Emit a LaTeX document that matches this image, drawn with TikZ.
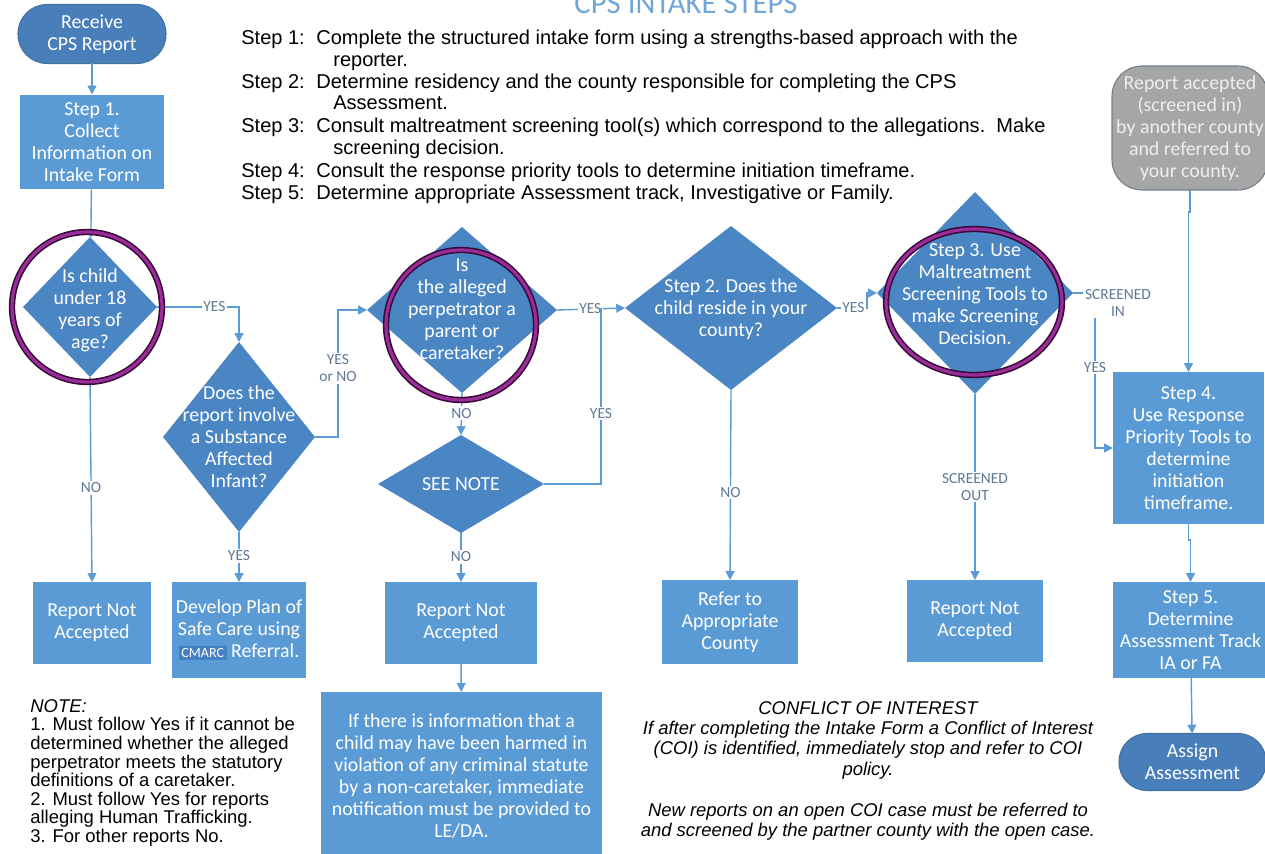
\documentclass[tikz,border=0pt]{standalone}
\usepackage{fontspec}
\setmainfont{Liberation Sans}
\newfontfamily\flowfont{Carlito}
\usetikzlibrary{arrows.meta,calc,positioning,shapes.geometric}

\definecolor{boxblue}{RGB}{91,155,213}
\definecolor{dblue}{RGB}{74,134,196}
\definecolor{pillblue}{RGB}{72,126,186}
\definecolor{pilledge}{RGB}{65,113,156}
\definecolor{linkblue}{RGB}{91,155,213}
\definecolor{lblgrey}{RGB}{95,120,150}
\definecolor{greybox}{RGB}{166,166,166}
\definecolor{greyedge}{RGB}{110,125,140}
\definecolor{ringdark}{RGB}{55,10,55}
\definecolor{ringpurple}{RGB}{155,45,155}
\definecolor{titleblue}{RGB}{112,166,216}
\definecolor{cmarcbg}{RGB}{70,128,196}

\tikzset{
  box/.style={rectangle, fill=boxblue, text=white, align=center,
    font=\flowfont\fontsize{11.3}{12.5}\selectfont, inner sep=0pt, outer sep=0pt},
  pill/.style={box, fill=pillblue, draw=pilledge, line width=0.6pt},
  decision/.style={diamond, fill=dblue, inner sep=0pt, outer sep=0pt},
  dtext/.style={text=white, align=center, inner sep=0pt,
    font=\flowfont\fontsize{11.3}{12.5}\selectfont},
  lbl/.style={fill=white, text=lblgrey, align=center, inner sep=1pt,
    font=\flowfont\fontsize{8.8}{9.6}\selectfont},
  flow/.style={draw=linkblue, line width=0.8pt, -{Triangle[length=5pt,width=5pt]}},
  link/.style={draw=linkblue, line width=0.8pt},
  ring/.style={draw=ringdark, line width=0.9pt, double=ringpurple, double distance=1.8pt},
  steps/.style={anchor=base west, inner sep=0pt, font=\fontsize{11.4}{12.5}\selectfont},
}

\begin{document}
\begin{tikzpicture}[x=0.02cm, y=-0.02cm]

  \useasboundingbox (0,0) rectangle (1265,854);

  %-------------------------
  % Title and step list
  %-------------------------
  \node[anchor=base, inner sep=0pt, text=titleblue, font=\flowfont\fontsize{17.5}{18}\selectfont]
    (title) at (686,14) {CPS INTAKE STEPS};

  \foreach \n/\y in {1/45, 2/89, 3/133, 4/178, 5/200}
    \node[steps] (lab\n) at (241,\y) {Step \n:};

  \node[steps] (st1) at (316,45) {Complete the structured intake form using a strengths-based approach with the};
  \node[steps] (st1b) at (333,67) {reporter.};
  \node[steps] (st2) at (316,89) {Determine residency and the county responsible for completing the CPS};
  \node[steps] (st2b) at (333,110) {Assessment.};
  \node[steps] (st3) at (316,133) {Consult maltreatment screening tool(s) which correspond to the allegations.\ \ Make};
  \node[steps] (st3b) at (333,155) {screening decision.};
  \node[steps] (st4) at (316,178) {Consult the response priority tools to determine initiation timeframe.};
  \node[steps] (st5) at (316,200) {Determine appropriate Assessment track, Investigative or Family.};

  %-------------------------
  % Left column
  %-------------------------
  \node[pill, rounded corners=0.58cm, minimum width=2.96cm, minimum height=1.18cm]
    (start) at (92,34) {Receive\\CPS Report};
  \node[box, minimum width=2.9cm, minimum height=1.9cm]
    (s1) at (92,142) {Step 1.\\Collect\\Information on\\Intake Form};

  \node[decision, minimum width=2.68cm, minimum height=2.8cm] (d1) at (90,307) {};
  \node[dtext] (d1t) at (90,310) {Is child\\under 18\\years of\\age?};

  \node[box, minimum width=2.38cm, minimum height=1.64cm]
    (r1) at (92,623) {Report Not\\Accepted};

  \node[decision, minimum width=3.04cm, minimum height=3.8cm] (d2) at (239,437) {};
  \node[dtext] (d2t) at (239,437) {Does the\\report involve\\a Substance\\Affected\\Infant?};

  \node[box, minimum width=2.68cm, minimum height=1.92cm] (plan) at (239,630)
    {Develop Plan of\\Safe Care using\\{\setlength\fboxsep{1.5pt}\colorbox{cmarcbg}{\fontsize{8}{8}\selectfont CMARC}} Referral.};

  %-------------------------
  % Middle columns
  %-------------------------
  \node[decision, minimum width=3.8cm, minimum height=3.32cm] (d3) at (462,310) {};
  \node[dtext] (d3t) at (462,309) {Is\\the alleged\\perpetrator a\\parent or\\caretaker?};

  \node[decision, minimum width=3.32cm, minimum height=1.96cm] (dn) at (461,484) {};
  \node[dtext] (dnt) at (461,484) {SEE NOTE};

  \node[box, minimum width=3.04cm, minimum height=1.64cm]
    (r2) at (461,623) {Report Not\\Accepted};

  \node[box, minimum width=5.62cm, minimum height=3.36cm] (info) at (461.5,776)
    {If there is information that a\\child may have been harmed in\\violation of any criminal statute\\by a non-caretaker, immediate\\notification must be provided to\\LE/DA.};

  \node[decision, minimum width=4.24cm, minimum height=3.28cm] (d4) at (731,308) {};
  \node[dtext] (d4t) at (731,309) {Step 2. Does the\\child reside in your\\county?};

  \node[box, minimum width=2.72cm, minimum height=1.68cm]
    (refer) at (730,622) {Refer to\\Appropriate\\County};

  \node[decision, minimum width=3.92cm, minimum height=4.04cm] (d5) at (975,293) {};
  \node[dtext] (d5t) at (975,294) {Step 3. Use\\Maltreatment\\Screening Tools to\\make Screening\\Decision.};

  \node[box, minimum width=2.72cm, minimum height=1.64cm]
    (r3) at (975,621) {Report Not\\Accepted};

  %-------------------------
  % Right column
  %-------------------------
  \node[box, fill=greybox, draw=greyedge, line width=0.6pt, rounded corners=0.6cm,
    text={rgb,255:red,238;green,238;blue,238}, minimum width=3.12cm, minimum height=2.48cm]
    (other) at (1190,128) {Report accepted\\(screened in)\\by another county\\and referred to\\your county.};

  \node[box, minimum width=3.02cm, minimum height=3.04cm] (s4) at (1188.5,448)
    {Step 4.\\Use Response\\Priority Tools to\\determine\\initiation\\timeframe.};
  \node[box, minimum width=3.1cm, minimum height=1.92cm] (s5) at (1190.5,630)
    {Step 5.\\Determine\\Assessment Track\\IA or FA};
  \node[pill, rounded corners=0.56cm, minimum width=2.94cm, minimum height=1.14cm]
    (assign) at (1192.5,762) {Assign\\Assessment};

  % Connectors
  \coordinate (j) at (601,308);
  \draw[flow] (start) -- (s1);
  \draw[flow] (s1) -- (d1);
  \draw[flow] (d1.east) -| node[lbl, pos=0.35] {YES} (d2.north);
  \draw[flow] (d1.south) -- node[lbl, pos=0.54] {NO} (r1.north);
  \draw[flow] (d2.south) -- node[lbl, pos=0.48] {YES} (plan.north);
  \draw[flow] (d2.east) -- ++(23,0) |- node[lbl, pos=0.27] {YES\\or NO} (d3.west);
  \draw[flow] (d3.east) -- node[lbl, pos=0.49] {YES} (d4.west);
  \draw[flow] (d3.south) -- node[lbl, pos=0.48] {NO} (dn.north);
  \draw[link] (dn.east) -| node[lbl, pos=0.7] {YES} (j);
  \draw[flow] (dn.south) -- node[lbl, pos=0.49] {NO} (r2.north);
  \draw[flow] (r2) -- (info);
  \draw[flow] (d4.south) -- node[lbl, pos=0.54] {NO} (refer.north);
  \draw[flow] (d4.east) -- node[lbl, pos=0.55] {YES} ++(30,0) |- (d5.west);
  \draw[flow] (d5.south) -- node[lbl, pos=0.5] {SCREENED\\OUT} (r3.north);
  \draw[flow] (d5.east) -- ++(22,0) |- node[lbl, pos=0.24] {YES} (s4.west);
  \node[lbl] (inlbl) at (1118,303) {SCREENED\\IN};
  \draw[flow] (other.south) -- ++(0,22) -| (s4.north);
  \draw[flow] (s4.south) -- ++(0,16) -| (s5.north);
  \draw[flow] (s5) -- (assign);

  % Rings
  \draw[ring] (87,307) circle (1.5cm);
  \draw[ring] (461,325) circle (1.5cm);
  \draw[ring] (974,302) ellipse (1.76cm and 1.46cm);

  %-------------------------
  % Notes
  %-------------------------
  \node[anchor=north west, inner sep=0pt, align=left, font=\fontsize{10.5}{10.6}\selectfont]
    (note) at (30,699) {\textit{NOTE:}\\1. Must follow Yes if it cannot be\\determined whether the alleged\\perpetrator meets the statutory\\definitions of a caretaker.\\2. Must follow Yes for reports\\alleging Human Trafficking.\\3. For other reports No.};

  \node[anchor=north, inner sep=0pt, align=center, font=\itshape\fontsize{10.5}{11.6}\selectfont]
    (coi) at (868,701) {CONFLICT OF INTEREST\\If after completing the Intake Form a Conflict of Interest\\(COI) is identified, immediately stop and refer to COI\\policy.\\[11.6pt]New reports on an open COI case must be referred to\\and screened by the partner county with the open case.};

\end{tikzpicture}
\end{document}
